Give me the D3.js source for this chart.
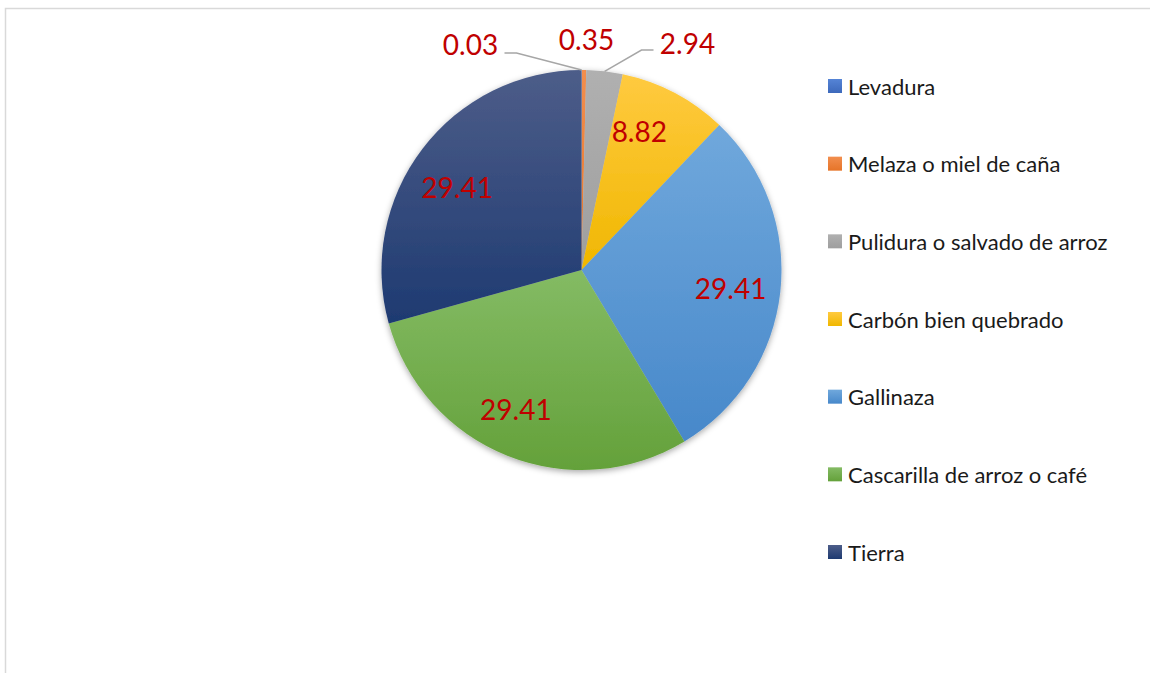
<!DOCTYPE html>
<html>
<head>
<meta charset="utf-8">
<script src="https://cdn.jsdelivr.net/npm/d3@7"></script>
<style>
  html, body { margin: 0; padding: 0; background: #fff; }
  svg { display: block; }
  text { font-family: Lato, "Open Sans", "Liberation Sans", sans-serif; }
</style>
</head>
<body>
<svg id="chart" width="1150" height="673"></svg>
<script>
// Ingredients of the mix (percent)
const categories = [
  "Levadura",
  "Melaza o miel de caña",
  "Pulidura o salvado de arroz",
  "Carbón bien quebrado",
  "Gallinaza",
  "Cascarilla de arroz o café",
  "Tierra"
];
const values = [0.03, 0.35, 2.94, 8.82, 29.41, 29.41, 29.41];
const valueLabels = ["0.03", "0.35", "2.94", "8.82", "29.41", "29.41", "29.41"];

// Office-style fills, light at top fading to the base tone at bottom
const fillTop    = ["#5584d6", "#f28e4e", "#b0b0b0", "#ffca40", "#70a8dc", "#84bb64", "#4d5d89"];
const fillBottom = ["#3d69bb", "#e67428", "#9e9e9e", "#f0b700", "#4788ca", "#64a13a", "#1e3a71"];

const svg = d3.select("#chart");
const W = 1150, H = 673;
const cx = 581.5, cy = 270, R = 200;

// chart frame (only top and left edges fall inside the view)
svg.append("rect")
  .attr("x", 5.5).attr("y", 8.5)
  .attr("width", W + 20).attr("height", H + 20)
  .attr("fill", "#fff")
  .attr("stroke", "#d9d9d9").attr("stroke-width", 1.5);

const defs = svg.append("defs");
categories.forEach((c, i) => {
  const g = defs.append("linearGradient")
    .attr("id", "grad" + i)
    .attr("x1", 0).attr("y1", 0).attr("x2", 0).attr("y2", 1);
  g.append("stop").attr("offset", "0%").attr("stop-color", fillTop[i]);
  g.append("stop").attr("offset", "100%").attr("stop-color", fillBottom[i]);
});
const shadow = defs.append("filter").attr("id", "pieShadow")
  .attr("x", "-10%").attr("y", "-10%").attr("width", "120%").attr("height", "125%");
shadow.append("feDropShadow")
  .attr("dx", 0).attr("dy", 2).attr("stdDeviation", 3)
  .attr("flood-color", "#000").attr("flood-opacity", 0.35);

const pie = d3.pie().sort(null).value(d => d);
const arcs = pie(values);
const arc = d3.arc().innerRadius(0).outerRadius(R);
const labelArc = d3.arc().innerRadius(150).outerRadius(150);
const edgeArc = d3.arc().innerRadius(R).outerRadius(R);

const pieG = svg.append("g")
  .attr("transform", `translate(${cx},${cy})`);

pieG.append("g").attr("filter", "url(#pieShadow)")
  .selectAll("path")
  .data(arcs)
  .join("path")
  .attr("d", arc)
  .attr("fill", (d, i) => `url(#grad${i})`);

// Large slices: value printed inside the slice, with a small best-fit nudge
const labelColor = "#c00000";
const labelSize = 28;
const insideNudge = { 3: [-12, -6], 4: [0, 2], 5: [-10, 0], 6: [-5, 8] };
pieG.selectAll("text.inside")
  .data(arcs.filter(d => d.value > 5))
  .join("text")
  .attr("class", "inside")
  .attr("transform", d => {
    const [x, y] = labelArc.centroid(d);
    const [nx, ny] = insideNudge[d.index] || [0, 0];
    return `translate(${x + nx},${y + ny})`;
  })
  .attr("text-anchor", "middle")
  .attr("dominant-baseline", "central")
  .attr("font-size", labelSize)
  .attr("fill", labelColor)
  .text(d => valueLabels[d.index]);

// Thin slices: value printed above the pie, with leader lines where needed
const outside = arcs.filter(d => d.value <= 5);
const outerPos = [ // label centre relative to pie centre, leader side
  { dx: -111, dy: -226, side: 1, leader: true },
  { dx: 5, dy: -231, side: 0, leader: false },
  { dx: 106, dy: -227, side: -1, leader: true }
];
outside.forEach((d, k) => {
  const p = outerPos[k];
  pieG.append("text")
    .attr("x", p.dx).attr("y", p.dy)
    .attr("text-anchor", "middle")
    .attr("dominant-baseline", "central")
    .attr("font-size", labelSize)
    .attr("fill", labelColor)
    .text(valueLabels[d.index]);
  if (p.leader) {
    const end = edgeArc.centroid(d);
    const startX = p.dx + p.side * 34;
    const ly = p.dy + 7 * (p.side === 1 ? 1.3 : 1);
    const elbowX = startX + p.side * 12;
    pieG.append("polyline")
      .attr("points", `${startX},${ly} ${elbowX},${ly} ${end[0]},${end[1]}`)
      .attr("fill", "none")
      .attr("stroke", "#a6a6a6")
      .attr("stroke-width", 1.5);
  }
});

// Legend
const legend = svg.append("g");
const legY = d3.scalePoint().domain(categories).range([86, 552]);
const rows = legend.selectAll("g")
  .data(categories)
  .join("g")
  .attr("transform", d => `translate(828,${legY(d)})`);
rows.append("rect")
  .attr("x", 0).attr("y", -7)
  .attr("width", 14).attr("height", 14)
  .attr("fill", (d, i) => `url(#grad${i})`);
rows.append("text")
  .attr("x", 20).attr("y", 0)
  .attr("dominant-baseline", "central")
  .attr("font-size", 22)
  .attr("fill", "#1a1a1a")
  .text(d => d);
</script>
</body>
</html>
